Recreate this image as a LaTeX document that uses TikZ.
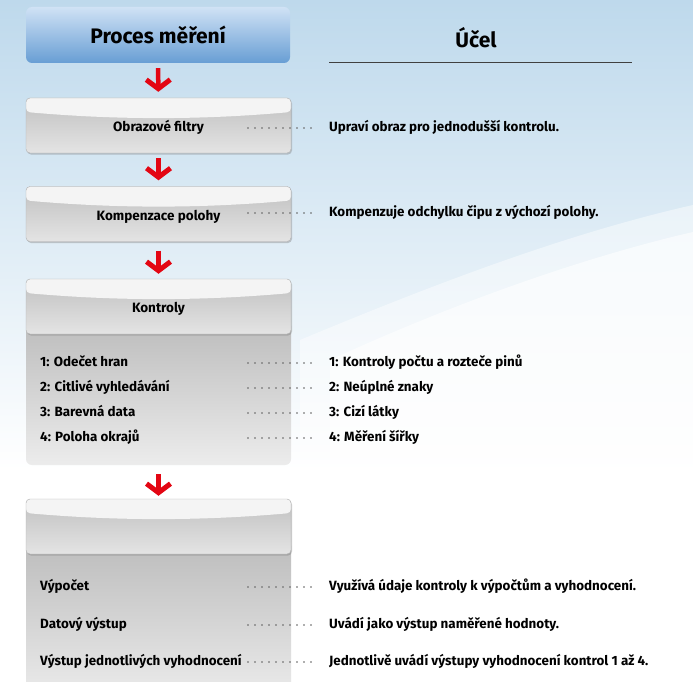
\documentclass[tikz,border=0pt]{standalone}
\usepackage{fontspec}
\setmainfont{Fira Sans}
\usetikzlibrary{positioning,arrows.meta,shadows}
\definecolor{skyTop}{RGB}{190,217,236}
\definecolor{headTop}{RGB}{208,226,245}
\definecolor{headBottom}{RGB}{104,158,212}
\definecolor{flowRed}{RGB}{227,6,19}
\definecolor{capWhite}{RGB}{244,244,244}
\definecolor{capGreyTop}{RGB}{192,192,192}
\definecolor{capGreyBottom}{RGB}{228,228,228}
\definecolor{bodyTop}{RGB}{188,188,188}
\definecolor{bodyBottom}{RGB}{236,236,236}
\definecolor{dotGrey}{RGB}{95,95,95}
\tikzstyle{titleText} = [font=\fontsize{21}{25}\selectfont\bfseries]
\tikzstyle{titleBox} = [titleText, rounded corners=6pt, minimum width=264pt, minimum height=56pt, top color=headTop, bottom color=headBottom]
\tikzstyle{stepBox} = [rounded corners=4pt, minimum width=265pt, minimum height=55pt, draw=gray!60, top color=capGreyTop, bottom color=capGreyBottom,
  drop shadow={opacity=0.4, shadow xshift=1pt, shadow yshift=-1.5pt},
  path picture={\fill[capWhite] (path picture bounding box.north west) -- (path picture bounding box.north east)
    -- ([yshift=-14pt]path picture bounding box.north east)
    .. controls ([xshift=-90pt,yshift=-22pt]path picture bounding box.north east) and ([xshift=90pt,yshift=-22pt]path picture bounding box.north west)
    .. ([yshift=-14pt]path picture bounding box.north west) -- cycle;},
  font=\fontsize{13.5}{16}\selectfont\bfseries, text height=14pt, text depth=2pt]
\tikzstyle{panelBody} = [rounded corners=6pt, minimum width=265pt, inner sep=0pt, top color=bodyTop, bottom color=bodyBottom]
\tikzstyle{itemText} = [anchor=west, inner sep=0pt, font=\fontsize{13.4}{16}\selectfont\bfseries, text height=10pt, text depth=3pt]
\tikzstyle{flowArrow} = [flowRed, line width=4.5pt, -{Straight Barb[length=9pt,width=24pt,line width=5pt]}, shorten <=5pt, shorten >=6pt]
\tikzstyle{leader} = [dotGrey, line width=1.7pt, line cap=round, dash pattern=on 0pt off 7pt, shorten >=17pt]
\tikzstyle{ruleLine} = [gray!50!black, line width=1pt]
\begin{document}
\begin{tikzpicture}[x=1pt, y=-1pt]
  \useasboundingbox (0,0) rectangle (693,682);
  \clip (0,0) rectangle (693,682);
  % background
  \fill[white] (0,0) rectangle (693,682);
  \fill[top color=skyTop, bottom color=white] (0,0) rectangle (693,470);
  \fill[white, opacity=0.45] (693,205) .. controls (560,235) and (420,290) .. (300,340) -- (300,470) -- (693,470) -- cycle;
  \fill[white, opacity=0.6] (693,232) .. controls (580,258) and (450,305) .. (330,360) -- (330,470) -- (693,470) -- cycle;

  % left column
  \node[titleBox] (proces) at (158,35) {Proces měření};
  \node[stepBox] (filtry) at (158.5,125.5) {Obrazové filtry};
  \node[stepBox] (poloha) at (158.5,214) {Kompenzace polohy};
  \node[panelBody, minimum height=145pt] (kontrolyBody) at (158.5,392.5) {};
  \node[stepBox] (kontroly) at (158.5,306.5) {Kontroly};
  \node[panelBody, minimum height=160pt] (vystupBody) at (158.5,620) {};
  \node[stepBox] (vystup) at (158.5,526.5) {};

  \draw[flowArrow] (proces) -- (filtry);
  \draw[flowArrow] (filtry) -- (poloha);
  \draw[flowArrow, shorten <=9pt, shorten >=5pt] (poloha) -- (kontroly);
  \draw[flowArrow, shorten <=9pt, shorten >=3pt] (kontrolyBody) -- (vystup);

  \node[itemText] (hrany) at (40,363) {1: Odečet hran};
  \node[itemText] (citlive) at (40,388) {2: Citlivé vyhledávání};
  \node[itemText] (barvy) at (40,413) {3: Barevná data};
  \node[itemText] (okraje) at (40,438) {4: Poloha okrajů};
  \node[itemText] (vypocet) at (40,587) {Výpočet};
  \node[itemText] (datovy) at (40,625) {Datový výstup};
  \node[itemText] (jednotlive) at (40,662) {Výstup jednotlivých vyhodnocení};

  % right column
  \node[titleText] (ucel) at (476,38) {Účel};
  \draw[ruleLine] (329,63) -- (632,63);
  \node[itemText] (filtryUcel) at (329,128) {Upraví obraz pro jednodušší kontrolu.};
  \node[itemText] (polohaUcel) at (329,213) {Kompenzuje odchylku čipu z výchozí polohy.};
  \node[itemText] (hranyUcel) at (329,363) {1: Kontroly počtu a rozteče pinů};
  \node[itemText] (citliveUcel) at (329,388) {2: Neúplné znaky};
  \node[itemText] (barvyUcel) at (329,413) {3: Cizí látky};
  \node[itemText] (okrajeUcel) at (329,438) {4: Měření šířky};
  \node[itemText] (vypocetUcel) at (329,587) {Využívá údaje kontroly k výpočtům a vyhodnocení.};
  \node[itemText] (datovyUcel) at (329,625) {Uvádí jako výstup naměřené hodnoty.};
  \node[itemText] (jednotliveUcel) at (329,662) {Jednotlivě uvádí výstupy vyhodnocení kontrol 1 až 4.};

  % dotted leaders
  \foreach \row/\yy in {filtry/128, poloha/213, hrany/363, citlive/388, barvy/413, okraje/438, vypocet/587, datovy/625, jednotlive/662} {
    \coordinate (\row Dot) at (248,\yy);
    \draw[leader] (\row Dot) -- (\row Ucel.west);
  }
\end{tikzpicture}
\end{document}
